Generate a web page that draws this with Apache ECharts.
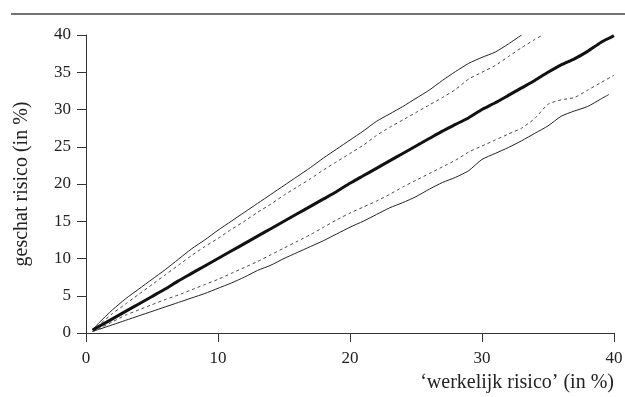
<!DOCTYPE html>
<html>
<head>
<meta charset="utf-8">
<script src="https://cdn.jsdelivr.net/npm/echarts@6/dist/echarts.min.js"></script>
<style>html,body{margin:0;padding:0;background:#fff;}#c{width:625px;height:397px;}</style>
</head>
<body>
<div id="c"></div>
<script>
// x values (werkelijk risico, %)
var xMid = [0.5,1,2,3,4,5,6,7,8,9,10,11,12,13,14,15,16,17,18,19,20,21,22,23,24,25,26,27,28,29,30,31,32,33,34,35,36,37,38,39,40];
var xUpperSolid = [0.5,1,2,3,4,5,6,7,8,9,10,11,12,13,14,15,16,17,18,19,20,21,22,23,24,25,26,27,28,29,30,31,32,33];
var xUpperDashed = [0.5,1,2,3,4,5,6,7,8,9,10,11,12,13,14,15,16,17,18,19,20,21,22,23,24,25,26,27,28,29,30,31,32,33,34,34.6];
var xLowerDashed = xMid;
var xLowerSolid = [0.5,1,2,3,4,5,6,7,8,9,10,11,12,13,14,15,16,17,18,19,20,21,22,23,24,25,26,27,28,29,30,31,32,33,34,35,36,37,38,39,39.6];

// geschat risico (%)
var yMid = [0.4,0.9,1.9,2.9,3.9,4.9,5.9,7.0,8.0,9.0,10.0,11.0,12.0,13.0,14.0,15.0,16.0,17.0,18.0,19.0,20.1,21.1,22.1,23.1,24.1,25.1,26.1,27.1,28.0,28.9,30.0,30.9,31.9,32.9,33.9,35.0,36.0,36.8,37.8,39.0,39.9];
var yUpperSolid = [0.4,1.4,3.1,4.6,5.9,7.2,8.5,9.9,11.3,12.5,13.8,15.0,16.2,17.4,18.6,19.8,21.0,22.2,23.5,24.7,25.9,27.1,28.4,29.4,30.4,31.5,32.6,33.9,35.1,36.2,37.0,37.7,38.8,40.0];
var yUpperDashed = [0.3,1.1,2.6,3.9,5.2,6.5,7.8,9.1,10.4,11.6,12.7,13.9,15.0,16.2,17.3,18.5,19.6,20.7,21.9,23.0,24.1,25.2,26.5,27.6,28.6,29.6,30.6,31.6,32.7,34.1,35.0,35.9,37.1,38.3,39.4,40.0];
var yLowerDashed = [0.2,0.6,1.5,2.4,3.1,3.8,4.5,5.1,5.8,6.5,7.2,8.0,8.8,9.6,10.5,11.4,12.3,13.2,14.2,15.2,16.1,16.9,17.7,18.6,19.6,20.5,21.4,22.3,23.2,24.3,25.1,25.9,26.7,27.5,28.8,30.7,31.3,31.6,32.6,33.6,34.6];
var yLowerSolid = [0.2,0.5,1.1,1.7,2.3,2.9,3.5,4.1,4.7,5.3,6.0,6.7,7.5,8.4,9.1,10.0,10.8,11.6,12.4,13.3,14.2,15.0,15.9,16.8,17.5,18.3,19.3,20.2,20.9,21.8,23.3,24.1,24.9,25.8,26.8,27.8,29.1,29.8,30.4,31.4,32.0];

var xTicks = [0,10,20,30,40];
var yTicks = [0,5,10,15,20,25,30,35,40];

function pairs(xs, ys){ return xs.map(function(x,i){ return [x, ys[i]]; }); }

var chart = echarts.init(document.getElementById('c'), null, {renderer:'canvas'});
var font = 'Liberation Serif';
var txt = '#222';
var axisCol = '#333';

function line(name, data, width, dashed, color){
  return {
    name: name, type: 'line', data: data, symbol: 'none', smooth: 0.2,
    lineStyle: {width: width, color: color, type: dashed ? [3,3] : 'solid'},
    animation: false, z: width > 2 ? 3 : 2
  };
}

chart.setOption({
  backgroundColor: '#fff',
  animation: false,
  grid: {left: 86, right: 11, top: 35, bottom: 64, containLabel: false, outerBoundsMode: 'none'},
  graphic: [{
    type: 'line', shape: {x1: 11, y1: 14, x2: 625, y2: 14},
    style: {stroke: '#444', lineWidth: 1.5}
  }],
  xAxis: {
    type: 'value', min: xTicks[0], max: xTicks[xTicks.length-1], interval: 10,
    name: '\u2018werkelijk risico\u2019 (in %)', nameLocation: 'end', nameGap: 0,
    nameTextStyle: {fontFamily: font, fontSize: 20, color: txt, align: 'right', verticalAlign: 'top', padding: [40,0,0,0]},
    axisLine: {show: true, onZero: false, lineStyle: {color: axisCol, width: 1}},
    axisTick: {show: true, inside: false, length: 9, lineStyle: {color: axisCol}},
    axisLabel: {fontFamily: font, fontSize: 17, color: txt, margin: 17},
    splitLine: {show: false}
  },
  yAxis: {
    type: 'value', min: yTicks[0], max: yTicks[yTicks.length-1], interval: 5,
    name: 'geschat risico (in %)', nameLocation: 'middle', nameGap: 54, nameRotate: 90,
    nameTextStyle: {fontFamily: font, fontSize: 20, color: txt},
    axisLine: {show: true, onZero: false, lineStyle: {color: axisCol, width: 1}},
    axisTick: {show: true, inside: false, length: 9, lineStyle: {color: axisCol}},
    axisLabel: {fontFamily: font, fontSize: 17, color: txt, margin: 15},
    splitLine: {show: false}
  },
  series: [
    line('bovengrens', pairs(xUpperSolid, yUpperSolid), 1, false, '#222'),
    line('boven interval', pairs(xUpperDashed, yUpperDashed), 1, true, '#444'),
    line('geschat', pairs(xMid, yMid), 3, false, '#111'),
    line('onder interval', pairs(xLowerDashed, yLowerDashed), 1, true, '#444'),
    line('ondergrens', pairs(xLowerSolid, yLowerSolid), 1, false, '#222')
  ]
});
</script>
</body>
</html>
